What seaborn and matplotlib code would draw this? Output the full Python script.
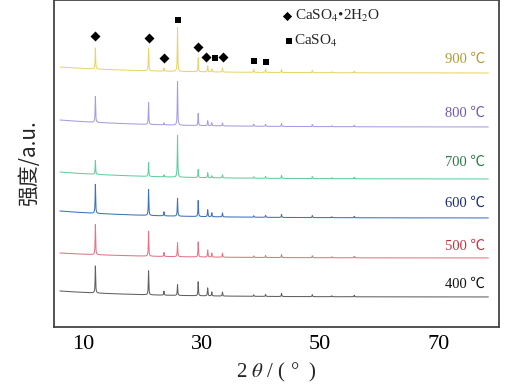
import numpy as np
import pandas as pd
import matplotlib
matplotlib.use("Agg")
import matplotlib.pyplot as plt
import seaborn as sns

# ---- data ----
temps = ["900 ℃", "800 ℃", "700 ℃", "600 ℃", "500 ℃", "400 ℃"]
peak_pos = [12.0, 21.0, 23.6, 25.9, 29.4, 31.0, 31.7, 33.5, 38.8, 40.8, 43.5, 48.7, 52.0, 55.8]
h900 = [21, 22, 3, 44, 14, 6, 3, 4, 3, 3, 3, 2, 1, 1.5]
h800 = [26, 22, 2, 44, 12, 5, 3, 3, 2, 2, 3, 2, 1, 1.5]
h700 = [14, 14, 2, 42, 8, 5, 2, 3, 1.5, 2, 3, 2, 1, 1.5]
h600 = [29, 26, 4, 18, 16, 7, 4, 4, 1.5, 2, 3, 2, 1, 1.5]
h500 = [30, 25, 4, 14, 15, 7, 4, 4, 1.5, 2, 3, 2, 1, 1.5]
h400 = [27, 24, 4, 11, 14, 8, 4, 4, 1.5, 2, 3, 2, 1, 1.5]
heights = [h900, h800, h700, h600, h500, h400]
base_left = [260, 207, 155, 116, 74, 36]
base_right = [254, 200, 148, 109, 69, 30]
label_y = [268, 214, 165, 124, 81, 43]
line_colors = ["#e9d46a", "#a99be0", "#5fcf9e", "#3f72b8", "#e27585", "#606060"]
label_colors = ["#b59a30", "#7459b0", "#2f7a4a", "#1c2a78", "#c8303f", "#111111"]

gyp_x = [12.0, 21.0, 23.6, 29.4, 30.8, 33.6]
gyp_y = [291, 289, 269, 280, 270, 270]
anh_x = [25.9, 32.2, 38.8, 40.8]
anh_y = [307, 269, 266, 265]

# ---- build profiles ----
x = np.linspace(6, 78.5, 8000)
frames = []
for name, h, bl, br in zip(temps, heights, base_left, base_right):
    bg = br + (bl - br) * np.exp(-(x - 6) / 15.0)
    y = bg.copy()
    for p, hh in zip(peak_pos, h):
        w = 0.05
        y += hh * w**2 / ((x - p) ** 2 + w**2)
    frames.append(pd.DataFrame({"x": x, "y": y, "T": name}))
df = pd.concat(frames, ignore_index=True)

sns.set_style("white")
plt.rcParams["font.family"] = ["Liberation Serif", "Noto Sans CJK SC", "DejaVu Sans"]
plt.rcParams["mathtext.fontset"] = "stix"

fig = plt.figure(figsize=(5.18, 3.89), dpi=100)
ax = fig.add_axes([54 / 518, 62 / 389, 445 / 518, 327 / 389])

sns.lineplot(data=df, x="x", y="y", hue="T", palette=dict(zip(temps, line_colors)),
             linewidth=0.75, legend=False, ax=ax, estimator=None, sort=False)

for t, ly, c in zip(temps, label_y, label_colors):
    ax.text(78, ly, t, color=c, ha="right", va="center", fontsize=10.5,
            family=["Liberation Serif", "Noto Sans CJK SC", "DejaVu Sans"])

ax.scatter(gyp_x, gyp_y, marker="D", s=26, color="black", zorder=5, linewidths=0)
ax.scatter(anh_x, anh_y, marker="s", s=24, color="black", zorder=5, linewidths=0)

# legend
ax.scatter([44.4], [311], marker="D", s=22, color="black", linewidths=0)
ax.scatter([44.7], [286], marker="s", s=18, color="black", linewidths=0)
ax.text(45.8, 311, "CaSO$_4$•2H$_2$O", fontsize=11, va="center", ha="left")
ax.text(45.6, 286, "CaSO$_4$", fontsize=11, va="center", ha="left")

ax.set_xlim(5, 80.3)
ax.set_ylim(0, 327)
ax.set_xticks([10, 30, 50, 70])
ax.set_yticks([])
ax.tick_params(axis="x", direction="in", length=8, width=1.2, labelsize=16,
               colors="#333333", labelcolor="black", pad=6)
for s in ax.spines.values():
    s.set_color("#444444")
    s.set_linewidth(1.3)

ax.set_xlabel(r"2 $\theta$ / ( °  )", fontsize=15, labelpad=5)
ax.set_ylabel("强度/a.u.", fontsize=15, labelpad=10,
              family=["Noto Sans CJK SC", "Liberation Serif"])

fig.savefig("out.png", dpi=100)
